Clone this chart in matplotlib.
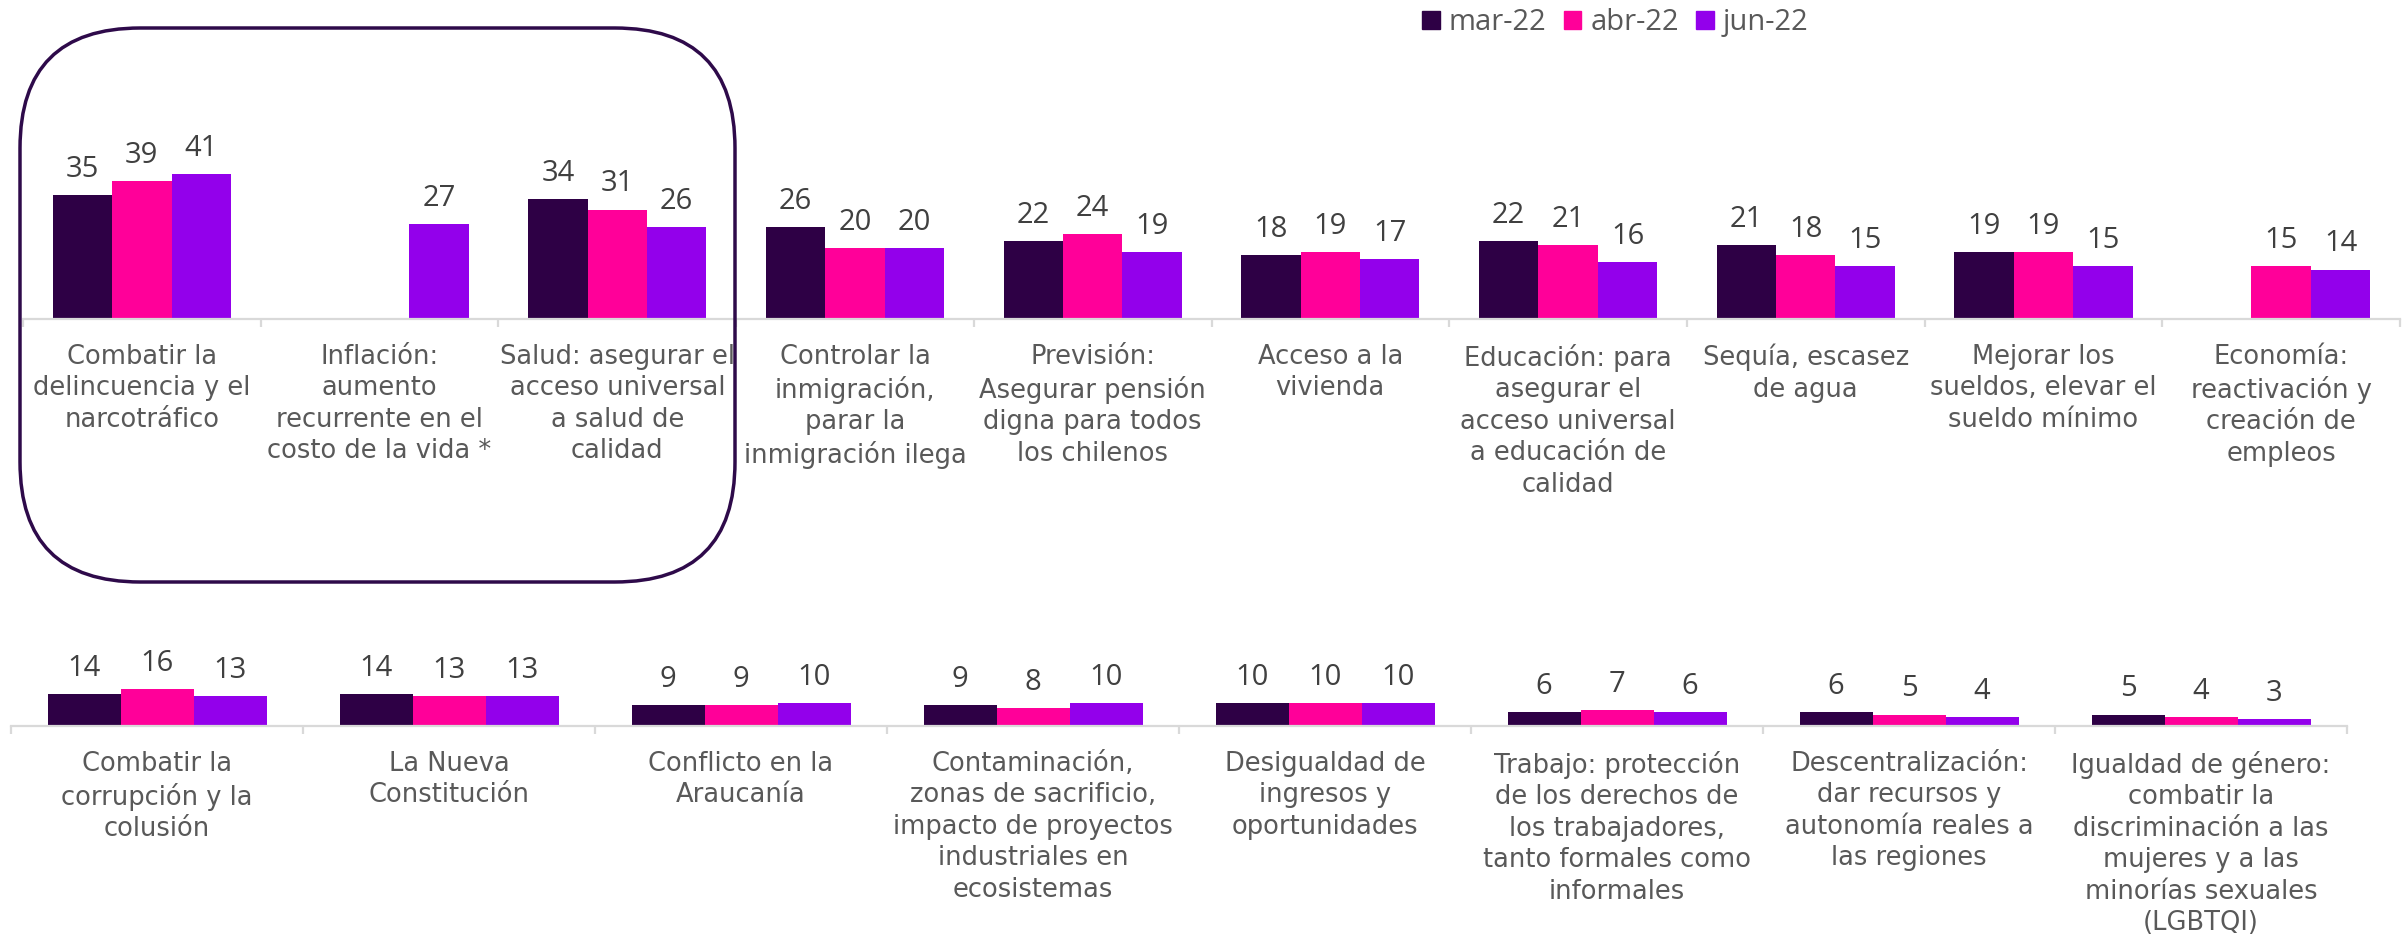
import numpy as np
import matplotlib
matplotlib.use('Agg')
import matplotlib.pyplot as plt
from matplotlib.patches import FancyBboxPatch, Patch

# data
series = ['mar-22', 'abr-22', 'jun-22']
colors = ['#2E0045', '#FF0099', '#9300EB']

top_cats = ['Combatir la\ndelincuencia y el\nnarcotráfico',
            'Inflación:\naumento\nrecurrente en el\ncosto de la vida *',
            'Salud: asegurar el\nacceso universal\na salud de\ncalidad',
            'Controlar la\ninmigración,\nparar la\ninmigración ilega',
            'Previsión:\nAsegurar pensión\ndigna para todos\nlos chilenos',
            'Acceso a la\nvivienda',
            'Educación: para\nasegurar el\nacceso universal\na educación de\ncalidad',
            'Sequía, escasez\nde agua',
            'Mejorar los\nsueldos, elevar el\nsueldo mínimo',
            'Economía:\nreactivación y\ncreación de\nempleos']
top_mar = [35, None, 34, 26, 22, 18, 22, 21, 19, None]
top_abr = [39, None, 31, 20, 24, 19, 21, 18, 19, 15]
top_jun = [41, 27, 26, 20, 19, 17, 16, 15, 15, 14]

bot_cats = ['Combatir la\ncorrupción y la\ncolusión',
            'La Nueva\nConstitución',
            'Conflicto en la\nAraucanía',
            'Contaminación,\nzonas de sacrificio,\nimpacto de proyectos\nindustriales en\necosistemas',
            'Desigualdad de\ningresos y\noportunidades',
            'Trabajo: protección\nde los derechos de\nlos trabajadores,\ntanto formales como\ninformales',
            'Descentralización:\ndar recursos y\nautonomía reales a\nlas regiones',
            'Igualdad de género:\ncombatir la\ndiscriminación a las\nmujeres y a las\nminorías sexuales\n(LGBTQI)']
bot_mar = [14, 14, 9, 9, 10, 6, 6, 5]
bot_abr = [16, 13, 9, 8, 10, 7, 5, 4]
bot_jun = [13, 13, 10, 10, 10, 6, 4, 3]

label_font = 'DejaVu Sans'
num_font = 'Open Sans'
gray = '#595959'
axis_gray = '#D9D9D9'

fig = plt.figure(figsize=(24.02, 9.42), dpi=100)


def draw_panel(ax, cats, vals, ymax):
    n = len(cats)
    x = np.arange(n) + 0.5
    w = 0.25
    for k, v in enumerate(vals):
        for i, val in enumerate(v):
            if val is None:
                continue
            xi = x[i] + (k - 1) * w
            ax.bar(xi, val, w, color=colors[k], linewidth=0)
            ax.annotate(str(val), (xi, val), xytext=(0, 8), textcoords='offset points',
                        ha='center', va='bottom', fontsize=21, color='#404040',
                        family=num_font)
    for i, c in enumerate(cats):
        ax.annotate(c, (x[i], 0), xycoords=('data', 'axes fraction'),
                    xytext=(0, -18), textcoords='offset points',
                    ha='center', va='top', multialignment='center',
                    fontsize=18.5, color=gray, family=label_font, linespacing=1.27)
    ax.set_xlim(0, n)
    ax.set_ylim(0, ymax)
    for s in ['top', 'right', 'left']:
        ax.spines[s].set_visible(False)
    ax.spines['bottom'].set_color(axis_gray)
    ax.spines['bottom'].set_linewidth(1.6)
    ax.set_xticks(np.arange(n + 1))
    ax.set_xticklabels([])
    ax.tick_params(axis='x', length=6, width=1.6, color=axis_gray)
    ax.set_yticks([])
    ax.patch.set_alpha(0)


ax1 = fig.add_axes([23 / 2402, 0.6614, 2377 / 2402, 0.1874])
draw_panel(ax1, top_cats, [top_mar, top_abr, top_jun], 50)

ax2 = fig.add_axes([11 / 2402, 0.2293, 2336 / 2402, 0.0488])
draw_panel(ax2, bot_cats, [bot_mar, bot_abr, bot_jun], 20)

# highlight box
box = FancyBboxPatch((20 / 2402, 1 - 582 / 942), 715 / 2402, 554 / 942,
                     boxstyle='round,pad=0,rounding_size=0.05',
                     transform=fig.transFigure, fill=False,
                     edgecolor='#2E0A4A', linewidth=2.5,
                     mutation_aspect=2402 / 942)
fig.patches.append(box)

handles = [Patch(color=c, label=s) for c, s in zip(colors, series)]
fig.legend(handles=handles, loc='center', bbox_to_anchor=(0.6725, 0.976), ncol=3,
           frameon=False, handlelength=0.6, handleheight=0.6, handletextpad=0.3,
           columnspacing=0.6, prop={'family': num_font, 'size': 21},
           labelcolor=gray)

fig.savefig('out.png', dpi=100)
